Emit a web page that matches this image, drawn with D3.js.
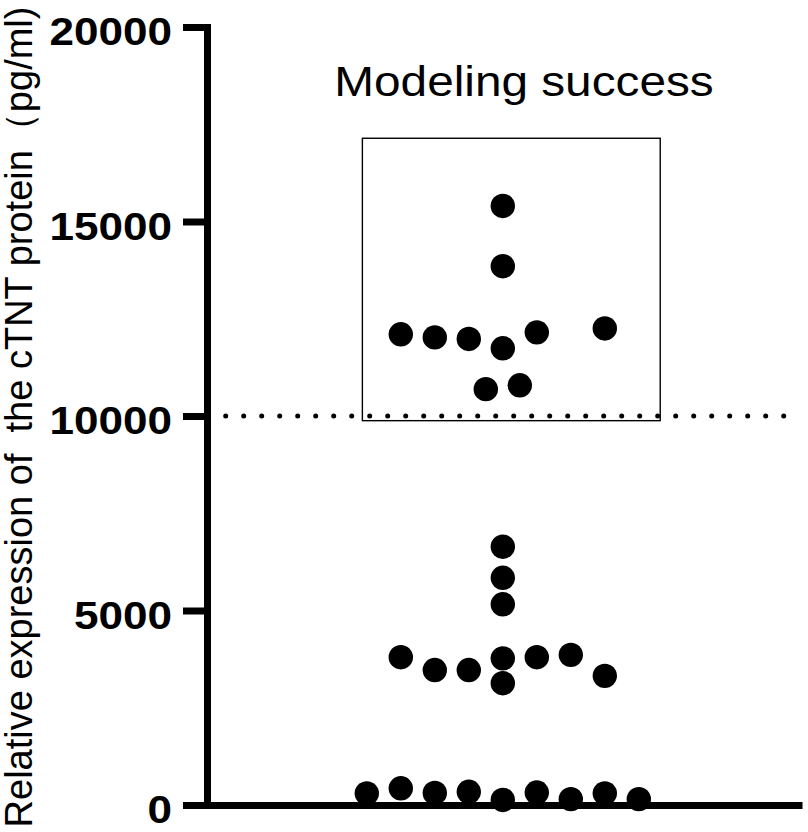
<!DOCTYPE html>
<html>
<head>
<meta charset="utf-8">
<script src="https://cdn.jsdelivr.net/npm/d3@7"></script>
<style>
    body { margin: 0; background: #fff; }
    text { font-family: Arial, "Liberation Sans", sans-serif; fill: #000; }
</style>
</head>
<body>
<div id="chart"></div>
<script>

// values (pg/ml)
let groupValues = [15400, 13850, 12100, 12020, 11980, 11740, 12150, 12250, 10690, 10790,
    6640, 5840, 5160, 3800, 3470, 3470, 3770, 3130, 3800, 3860, 3320,
    300, 430, 310, 340, 130, 320, 150, 300, 150];

// horizontal slot of each dot (scatter spread around the centre column)
let groupSlots = [0, 0, -3, -2, -1, 0, 1, 3, -0.5, 0.5,
    0, 0, 0, -3, -2, -1, 0, 0, 1, 2, 3,
    -4, -3, -2, -1, 0, 1, 2, 3, 4];

let yTicks = [0, 5000, 10000, 15000, 20000];
let threshold = 10000;
let successBox = {yMin: 9880, yMax: 17140, slotMin: -4.13, slotMax: 4.63};
let titleText = 'Modeling success';
let yLabel = 'Relative expression of  the cTNT protein（pg/ml)';

let dots = groupValues.map((v, i) => ({value: v, slot: groupSlots[i]}));

let width = 808, height = 832;
let margin = {top: 27, right: 6, bottom: 27, left: 207};

let svg = d3.select('#chart').append('svg')
    .attr('width', width)
    .attr('height', height);

// scales
let y = d3.scaleLinear()
    .domain([0, 20000])
    .range([height - margin.bottom, margin.top]);

let x = d3.scaleLinear()
    .domain([-8.7, 8.8])
    .range([margin.left, width - margin.right]);

// stretch text horizontally a little (the picture is slightly wide)
function widen(sel, k) {
    sel.each(function () {
        let len = this.getComputedTextLength();
        d3.select(this).attr('textLength', len * k).attr('lengthAdjust', 'spacingAndGlyphs');
    });
}

// box round the successful group
svg.append('rect')
    .attr('x', x(successBox.slotMin))
    .attr('y', y(successBox.yMax))
    .attr('width', x(successBox.slotMax) - x(successBox.slotMin))
    .attr('height', y(successBox.yMin) - y(successBox.yMax))
    .attr('fill', 'none')
    .attr('stroke', '#000')
    .attr('stroke-width', 1.4);

// dotted threshold line
svg.append('line')
    .attr('x1', margin.left + 0.7)
    .attr('x2', 784)
    .attr('y1', y(threshold))
    .attr('y2', y(threshold))
    .attr('stroke', '#000')
    .attr('stroke-width', 5)
    .attr('stroke-linecap', 'round')
    .attr('stroke-dasharray', '0,18');

// dots
svg.selectAll('.dot')
    .data(dots)
    .enter()
    .append('circle')
    .attr('class', 'dot')
    .attr('cx', d => x(d.slot))
    .attr('cy', d => y(d.value))
    .attr('r', 12.2)
    .attr('fill', '#000');

// x axis (no ticks)
let xAxisG = svg.append('g')
    .attr('transform', `translate(0, ${y(0)})`)
    .call(d3.axisBottom(x).tickValues([]).tickSizeOuter(0));
xAxisG.select('.domain')
    .attr('stroke-width', 7);

// y axis
let yAxisG = svg.append('g')
    .attr('transform', `translate(${margin.left}, 0)`)
    .call(d3.axisLeft(y).tickValues(yTicks).tickSize(24).tickSizeOuter(0).tickPadding(11).tickFormat(d3.format('d')));

yAxisG.select('.domain')
    .attr('stroke-width', 7)
    .attr('stroke-linecap', 'square');
yAxisG.selectAll('.tick line')
    .attr('stroke-width', 7);
yAxisG.selectAll('.tick text')
    .attr('dy', '0.45em')
    .style('font-family', 'Arial, "Liberation Sans", sans-serif')
    .style('font-size', '39px')
    .style('font-weight', 'bold')
    .call(widen, 1.13);

// title
svg.append('text')
    .attr('x', 524)
    .attr('y', 96)
    .attr('text-anchor', 'middle')
    .style('font-size', '43px')
    .text(titleText)
    .call(widen, 1.11);

// y axis label
svg.append('text')
    .attr('transform', `translate(32, 417) rotate(-90)`)
    .attr('text-anchor', 'middle')
    .style('font-size', '38px')
    .style('white-space', 'pre')
    .text(yLabel);

</script>
</body>
</html>
